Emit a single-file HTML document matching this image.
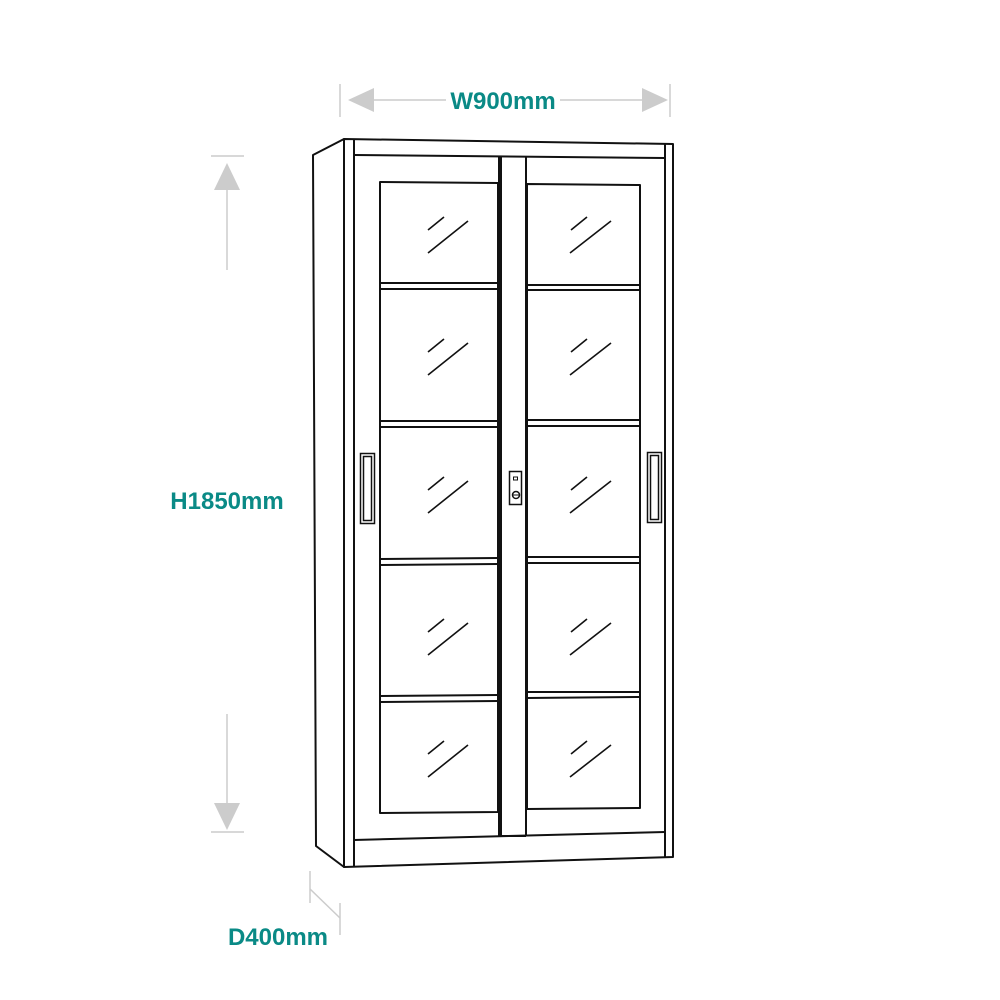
<!DOCTYPE html>
<html><head><meta charset="utf-8"><style>html,body{margin:0;padding:0;background:#fff}svg{display:block}</style></head>
<body>
<svg width="1000" height="1000" viewBox="0 0 1000 1000" xmlns="http://www.w3.org/2000/svg">
<g stroke="#ccc" stroke-width="1.5" fill="#ccc">
<line x1="340" y1="84" x2="340" y2="117"/><line x1="670" y1="84" x2="670" y2="117"/>
<line x1="370" y1="100" x2="645" y2="100"/>
<polygon points="348,100 374,88 374,112" stroke="none"/>
<polygon points="668,100 642,88 642,112" stroke="none"/>
<line x1="211" y1="156" x2="244" y2="156"/><line x1="211" y1="832" x2="244" y2="832"/>
<line x1="227" y1="188" x2="227" y2="270"/><line x1="227" y1="714" x2="227" y2="805"/>
<polygon points="227,163 214,190 240,190" stroke="none"/>
<polygon points="227,830 214,803 240,803" stroke="none"/>
<line x1="310" y1="871" x2="310" y2="903"/><line x1="310" y1="889" x2="340" y2="918"/><line x1="340" y1="903" x2="340" y2="935"/>
</g>
<g font-family="Liberation Sans, sans-serif" font-weight="bold" font-size="24" fill="#0a8a86" text-anchor="middle">
<rect x="446" y="86" width="114" height="28" fill="#fff"/>
<text x="503" y="109">W900mm</text>
<text x="227" y="509">H1850mm</text>
<text x="278" y="945">D400mm</text>
</g>
<g stroke="#111" stroke-width="2" fill="none" stroke-linejoin="round">
<polygon points="313,155 344,139 344,867 316,846"/>
<polygon points="344,139 673,144 673,857 344,867"/>
<line x1="354" y1="139" x2="354" y2="867"/>
<line x1="665" y1="144" x2="665" y2="857"/>
<line x1="354" y1="155" x2="665" y2="158"/>
<line x1="354" y1="840" x2="665" y2="832"/>
<line x1="499" y1="156" x2="499" y2="837"/>
<line x1="501" y1="156" x2="501" y2="837"/>
<line x1="526" y1="157" x2="526" y2="836"/>
<line x1="501" y1="836" x2="526" y2="836"/>
<polygon points="380,182 498,183 498,812 380,813"/>
<line x1="380" y1="283" x2="498" y2="283"/><line x1="380" y1="289" x2="498" y2="289"/>
<line x1="380" y1="421" x2="498" y2="421"/><line x1="380" y1="427" x2="498" y2="427"/>
<line x1="380" y1="559" x2="498" y2="558"/><line x1="380" y1="565" x2="498" y2="564"/>
<line x1="380" y1="696" x2="498" y2="695"/><line x1="380" y1="702" x2="498" y2="701"/>
<polygon points="527,184 640,185 640,808 527,809"/>
<line x1="527" y1="285" x2="640" y2="285"/><line x1="527" y1="290" x2="640" y2="290"/>
<line x1="527" y1="420" x2="640" y2="420"/><line x1="527" y1="426" x2="640" y2="426"/>
<line x1="527" y1="557" x2="640" y2="557"/><line x1="527" y1="563" x2="640" y2="563"/>
<line x1="527" y1="692" x2="640" y2="692"/><line x1="527" y1="698" x2="640" y2="697"/>
</g>
<g stroke="#111" stroke-width="1.6">
<g id="m"><line x1="428" y1="230" x2="444" y2="217"/><line x1="428" y1="253" x2="468" y2="221"/><line x1="571" y1="230" x2="587" y2="217"/><line x1="570" y1="253" x2="611" y2="221"/></g>
<use href="#m" y="122"/><use href="#m" y="260"/><use href="#m" y="402"/><use href="#m" y="524"/>
</g>
<g stroke="#111" stroke-width="1.5" fill="none">
<rect x="360.5" y="453.5" width="14" height="70"/><rect x="363.5" y="456.5" width="8" height="64"/>
<rect x="647.5" y="452.5" width="14" height="70"/><rect x="650.5" y="455.5" width="8" height="64"/>
<rect x="509.5" y="471.5" width="12" height="33"/>
<rect x="513.5" y="477" width="4" height="3" stroke-width="1"/>
<circle cx="516" cy="495" r="3.5"/><line x1="512.5" y1="495" x2="519.5" y2="495" stroke-width="1"/>
</g>
</svg>
</body></html>
